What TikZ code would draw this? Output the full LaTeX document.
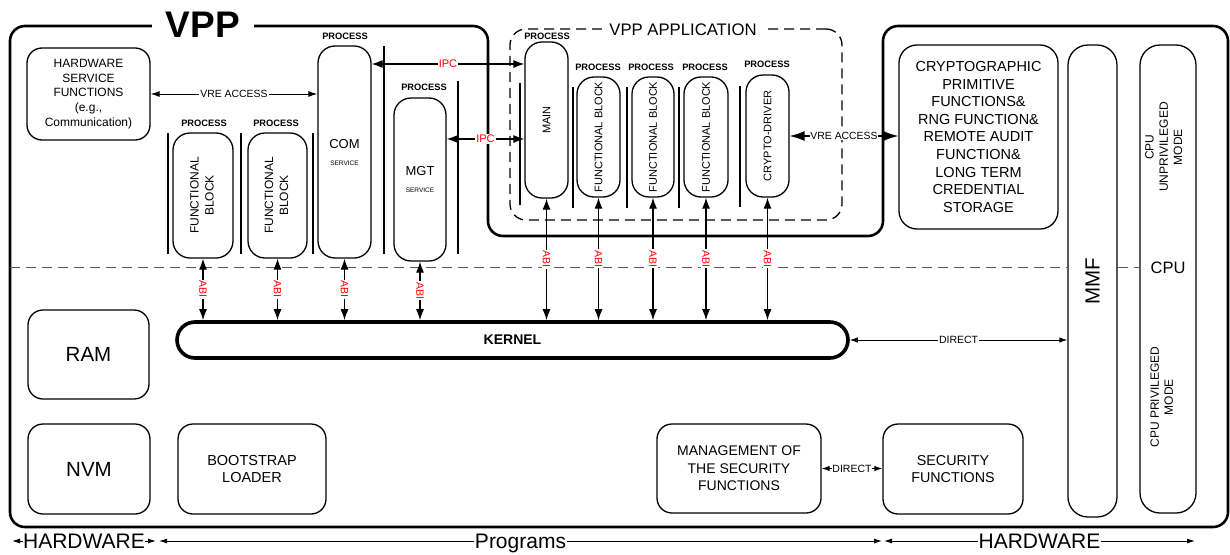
\documentclass[tikz,border=0pt]{standalone}
\usepackage{fontspec}
\setmainfont{Liberation Sans}
\usepackage{graphicx}
\usetikzlibrary{arrows.meta}
\newcommand{\myfs}[2]{\fontsize{#1}{#2}\selectfont}
\newcommand{\rotlines}[1]{\rotatebox{90}{\begin{tabular}{@{}c@{}}#1\end{tabular}}}
\tikzset{
  outerframe/.style={line width=2.6pt, rounded corners=15pt},
  rbox/.style={draw, line width=1.3pt, rounded corners=15pt, align=center, inner sep=0pt},
  proc/.style={rbox, rounded corners=17pt},
  ptitle/.style={font=\bfseries\myfs{9.3}{11}, inner sep=0pt},
  sepline/.style={line width=1.3pt},
  hdash/.style={line width=1pt, draw=black!65, dash pattern=on 10pt off 6pt},
  appbox/.style={draw, line width=1.3pt, dash pattern=on 10pt off 6pt, rounded corners=16pt},
  lbl/.style={fill=white, inner sep=1pt},
  redlbl/.style={lbl, text=red},
  abiarr/.style={line width=1.2pt, >={Latex[length=11pt,width=8pt]}, <->},
  ipcarr/.style={line width=1.2pt, >={Latex[length=11pt,width=8pt]}, <->},
  vrearr/.style={line width=1pt, >={Latex[length=9pt,width=6pt]}, <->},
  vrearrB/.style={line width=1.2pt, >={Latex[length=15pt,width=10pt]}, <->},
  dirarr/.style={line width=1pt, >={Latex[length=8pt,width=5.5pt]}, <->},
  spanarr/.style={line width=0.9pt, >={Latex[length=8pt,width=5pt]}, <->},
  abilbl/.style={redlbl, rotate=-90, font=\myfs{10.5}{12}},
  biglbl/.style={lbl, inner ysep=0pt, font=\myfs{21}{23}, text height=15pt, text depth=0pt}
}
\begin{document}
\begin{tikzpicture}[x=1pt,y=-1pt]
\useasboundingbox (0,0) rectangle (1230,554);

% outer frame
\draw[outerframe] (200,26) -- (10,26) -- (10,527) -- (1228,527) -- (1228,26) -- (883,26) -- (883,236) -- (488,236) -- (488,26) -- cycle;
\node[font=\bfseries\myfs{37}{40}, fill=white, inner xsep=14pt, inner ysep=0pt] (vpp) at (203,25) {VPP};

% VPP application box
\node[appbox, minimum width=332pt, minimum height=191pt] (app) at (676,124.5) {};
\node[font=\myfs{16.7}{19}, fill=white, inner xsep=7pt, inner ysep=1pt] (apptitle) at (683,30) {VPP APPLICATION};

% left boxes
\node[rbox, minimum width=123pt, minimum height=92pt, font=\myfs{12}{14.6}] (hsf) at (88.5,94) {HARDWARE\\SERVICE\\FUNCTIONS\\(e.g.,\\Communication)};
\node[proc, minimum width=60pt, minimum height=125pt, font=\myfs{12}{15}] (fb1) at (203,195.5) {\rotlines{FUNCTIONAL\\BLOCK}};
\node[proc, minimum width=59pt, minimum height=125pt, font=\myfs{12}{15}] (fb2) at (277.5,195.5) {\rotlines{FUNCTIONAL\\BLOCK}};
\node[proc, minimum width=53pt, minimum height=212pt, font=\myfs{13}{15}] (com) at (344.5,152) {COM\\[2pt]{\myfs{6.5}{8}SERVICE}};
\node[proc, minimum width=52pt, minimum height=163pt, font=\myfs{13}{15}] (mgt) at (420,179.5) {MGT\\[2pt]{\myfs{6.5}{8}SERVICE}};

% application processes
\node[proc, minimum width=43pt, minimum height=156pt, font=\myfs{11}{13}] (main) at (546.5,120) {\rotatebox{90}{MAIN}};
\node[proc, minimum width=43pt, minimum height=120pt, font=\myfs{11}{13}] (fb3) at (598.5,137) {\rotatebox{90}{FUNCTIONAL BLOCK}};
\node[proc, minimum width=42pt, minimum height=120pt, font=\myfs{11}{13}] (fb4) at (653,137) {\rotatebox{90}{FUNCTIONAL BLOCK}};
\node[proc, minimum width=44pt, minimum height=120pt, font=\myfs{11}{13}] (fb5) at (706,137) {\rotatebox{90}{FUNCTIONAL BLOCK}};
\node[proc, minimum width=43pt, minimum height=122pt, font=\myfs{11}{13}] (crypto) at (767.5,136) {\rotatebox{90}{CRYPTO-DRIVER}};

% PROCESS titles
\node[ptitle] (pt1) at (204,123) {PROCESS};
\node[ptitle] (pt2) at (276,123) {PROCESS};
\node[ptitle] (pt3) at (345,36) {PROCESS};
\node[ptitle] (pt4) at (424,87) {PROCESS};
\node[ptitle] (pt5) at (547,36) {PROCESS};
\node[ptitle] (pt6) at (598,67) {PROCESS};
\node[ptitle] (pt7) at (651,67) {PROCESS};
\node[ptitle] (pt8) at (705,67) {PROCESS};
\node[ptitle] (pt9) at (767,64) {PROCESS};

% separators
\draw[sepline] (168,133) -- (168,254);
\draw[sepline] (241,133) -- (241,254);
\draw[sepline] (313,133) -- (313,254);
\draw[sepline] (384,46) -- (384,254);
\draw[sepline] (458,81) -- (458,254);
\draw[sepline] (520,83) -- (520,205);
\draw[sepline] (573,87) -- (573,208);
\draw[sepline] (627,87) -- (627,208);
\draw[sepline] (679,87) -- (679,208);
\draw[sepline] (740,86) -- (740,207);

% right boxes
\node[rbox, rounded corners=18pt, minimum width=159pt, minimum height=184pt, font=\myfs{14.5}{17.6}] (cbox) at (978.5,137) {CRYPTOGRAPHIC\\PRIMITIVE\\FUNCTIONS\&\\RNG FUNCTION\&\\REMOTE AUDIT\\FUNCTION\&\\LONG TERM\\CREDENTIAL\\STORAGE};
\node[rbox, rounded corners=20pt, minimum width=49pt, minimum height=472pt, font=\myfs{20.5}{22}] (mmf) at (1092.5,281) {\rotatebox{90}{MMF}};
\node[rbox, rounded corners=20pt, minimum width=56pt, minimum height=468pt] (cpu) at (1168,279) {};
\node[font=\myfs{12}{14.3}] (cpuun) at (1165,147) {\rotlines{CPU\\UNPRIVILEGED\\MODE}};
\node[font=\myfs{16.5}{18}, fill=white, inner sep=1pt] (cpulbl) at (1168,268) {CPU};
\node[font=\myfs{12}{14}] (cpupr) at (1163,397) {\rotlines{CPU PRIVILEGED\\MODE}};

% lower boxes
\node[rbox, minimum width=121pt, minimum height=89pt, font=\myfs{20.5}{22}] (ram) at (88.5,354.5) {RAM};
\node[rbox, minimum width=122pt, minimum height=90pt, font=\myfs{20.5}{22}] (nvm) at (89,469) {NVM};
\node[rbox, minimum width=148pt, minimum height=90pt, font=\myfs{14.5}{17.3}] (boot) at (252,469) {BOOTSTRAP\\LOADER};
\node[draw, line width=3.6pt, rounded corners=18pt, minimum width=671pt, minimum height=36pt, inner sep=0pt, font=\bfseries\myfs{14}{16}] (kernel) at (512.5,340) {KERNEL};
\node[rbox, minimum width=164pt, minimum height=89pt, font=\myfs{14}{17.5}] (mgmt) at (739,468.5) {MANAGEMENT OF\\THE SECURITY\\FUNCTIONS};
\node[rbox, minimum width=140pt, minimum height=90pt, font=\myfs{14.3}{17.5}] (sec) at (953,469) {SECURITY\\FUNCTIONS};

% dashed CPU boundary
\coordinate (dl) at (10,267);
\draw[hdash] (dl) -- (dl -| mmf.west);
\draw[hdash] (dl -| mmf.east) -- (dl -| cpu.west);

% connectors
\coordinate (ipcA) at (0,64);
\coordinate (ipcB) at (0,139);
\draw[vrearr] (hsf.east) -- node[lbl, font=\myfs{10.4}{12}] (vre1) {VRE ACCESS} (hsf.east -| com.west);
\draw[ipcarr] (com.east |- ipcA) -- node[redlbl, font=\myfs{11}{13}] (ipc1) {IPC} (main.west |- ipcA);
\draw[ipcarr] (mgt.east |- ipcB) -- node[redlbl, font=\myfs{11}{13}] (ipc2) {IPC} (main.west |- ipcB);
\draw[vrearrB] (crypto.east) -- node[lbl, inner sep=0.5pt, font=\myfs{10.4}{12}] (vre2) {VRE ACCESS} (crypto.east -| cbox.west);

\foreach \n in {fb1,fb2,com,mgt,main,fb3,fb4,fb5,crypto}{
  \draw[abiarr] (\n.south) -- node[abilbl] (abi-\n) {ABI} (\n.south |- kernel.north);
}

\draw[dirarr] (kernel.east) -- node[lbl, font=\myfs{10.5}{12}] (dir1) {DIRECT} (kernel.east -| mmf.west);
\draw[dirarr] (mgmt.east) -- node[lbl, inner sep=0.5pt, font=\myfs{10.5}{12}] (dir2) {DIRECT} (mgmt.east -| sec.west);

% bottom spans
\coordinate (b1) at (12,541);
\coordinate (b2) at (156,541);
\coordinate (b3) at (159,541);
\coordinate (b4) at (882,541);
\coordinate (b5) at (884,541);
\coordinate (b6) at (1195,541);
\draw[spanarr] (b1) -- node[biglbl, inner xsep=0pt] (hw1) {HARDWARE} (b2);
\draw[spanarr] (b3) -- node[biglbl] (prog) {Programs} (b4);
\draw[spanarr] (b5) -- node[biglbl] (hw2) {HARDWARE} (b6);
\end{tikzpicture}
\end{document}
